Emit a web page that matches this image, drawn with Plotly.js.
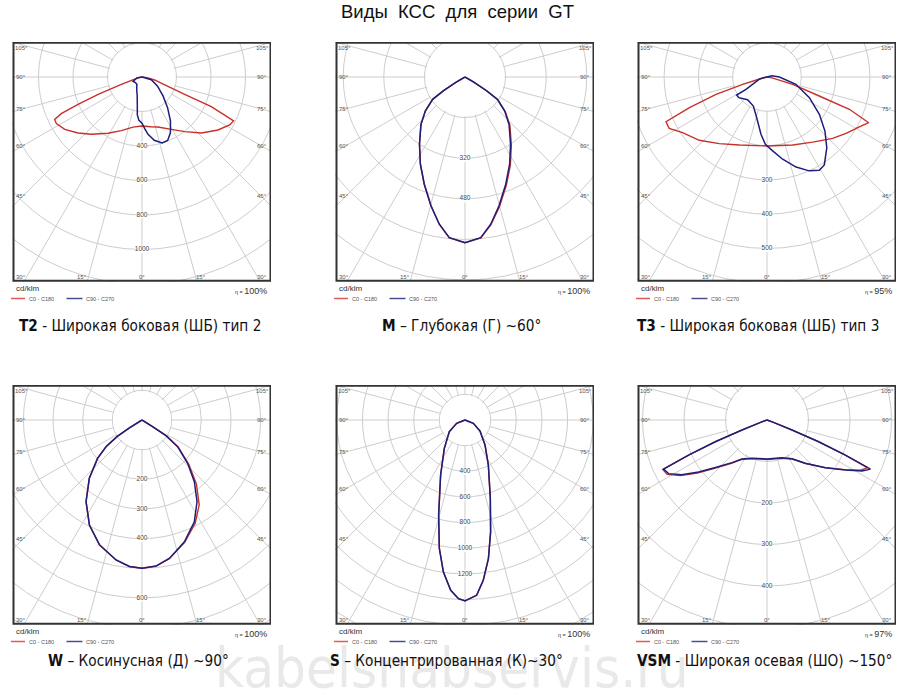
<!DOCTYPE html>
<html><head><meta charset="utf-8">
<script src="https://cdn.plot.ly/plotly-3.0.1.min.js"></script>
<style>
html,body{margin:0;padding:0;background:#fff;}
#page{position:relative;width:911px;height:695px;overflow:hidden;background:#fff;}
#bg{position:absolute;left:0;top:0;width:911px;height:695px;}
.clip{position:absolute;overflow:hidden;background:#fff;}
.pol{position:absolute;width:500px;height:500px;}
</style></head><body>
<div id="page"><div id="bg"></div></div>
<script>
// ---------------- DATA ----------------
const titleText = "Виды\u00A0 КСС\u00A0 для\u00A0 серии\u00A0 GT";
const captionCodes = ["T2", "M", "T3", "W", "S", "VSM"];
const captionTexts = [" - Широкая боковая (ШБ) тип 2", " – Глубокая (Г) ~60°", " - Широкая боковая (ШБ) тип 3",
                      " – Косинусная (Д) ~90°", " – Концентрированная (К)~30°", " - Широкая осевая (ШО) ~150°"];
const etaValues = ["100%", "100%", "95%", "100%", "100%", "97%"];
const legendNames = ["C0 - C180", "C90 - C270"];
const unitLabel = "cd/klm";
const angleLabels = ["105°", "90°", "75°", "60°", "45°", "30°", "15°", "0°"];

// T2
const t2_c0_theta = [-90,-80,-72,-70.5,-68.5,-66.9,-65.6,-64.1,-61.4,-55.9,-48.8,-41.5,-31.1,-21.1,-10.2,0,10,17.7,29.3,38,46.7,55.1,61.3,64.4,66.8,67.9,70.5,76.7,83,90];
const t2_c0_r     = [0,20,60,127,270,403,514,563,565,541,493,443,381,333,295,284,293,304,348,402,473,537,579,589,437,267,150,75,30,0];
const t2_c90_theta = [-90,-80,-64,-50,-35,-22,-15,-10,-7,-4,0,3,6,11,17,22,27,33,40,48,60,74,90];
const t2_c90_r     = [0,30,58,50,52,82,108,157,222,252,268,300,334,374,400,397,363,303,230,164,103,56,0];
const t2_rticks = [400, 600, 800, 1000];

// M
const m_theta  = [-90,-60,-57.5,-55.4,-49.4,-42.9,-34.1,-27.1,-20.8,-14.8,-9.9,-5.6,0,5.6,9.9,14.8,20.8,27.1,34.1,42.9,49.4,55.4,57.5,60,90];
const m_c0_r   = [0,40,100,155,206,255,320,386,452,525,589,636,653,637,592,530,458,392,326,260,209,157,101,40,0];
const m_c90_r  = [0,40,100,155,206,255,320,386,452,525,589,636,653,636,589,525,452,386,320,255,206,155,100,40,0];
const m_rticks = [320, 480];

// T3
const t3_c0_theta = [-90,-80,-75,-73.2,-71.2,-68.5,-66.1,-62.3,-56.6,-46.9,-35.6,-22.1,0,20.7,35,46.9,54.5,61.6,65.8,68.6,70,74,80,90];
const t3_c0_r     = [0,8,25,74,157,243,322,322,295,270,239,214,201,212,232,262,283,306,325,258,162,78,15,0];
const t3_c90_theta = [-90,-75,-59.6,-59.3,-53.9,-40.5,-25.2,-14.3,-6,-1.4,4.4,10.8,17.9,24.2,29.3,33.1,40.2,47,54.5,64,75.8,90,105,180];
const t3_c90_r     = [0,22,71,103,102,87,93.5,122,168,196,216,244,276,300,312,306,270,231,187.5,137.5,87,36,15,0];
const t3_rticks = [300, 400, 500];

// W
const w_theta  = [-90,-58,-56.5,-53.5,-49.2,-42.1,-34.4,-26.6,-18.8,-10.5,-4.9,0,5.5,11.2,19.2,27.2,34,40.3,46.5,53.2,56.9,58,90];
const w_c0_r   = [0,50,100,150,198,265,334,396,445,480,496,500,495,476,437,392,345,284,218,153,98,42,0];
const w_c90_r  = [0,50,100,150,198,265,334,396,445,480,496,500,495,476,435,386,332,273,212,150,97,42,0];
const w_rticks = [200, 300, 400, 600];

// S
const s_theta  = [-90,-68,-53.3,-36.1,-23.9,-15.5,-11.3,-8.1,-4.8,-2.1,0,3.8,6.5,9.6,12.9,17.9,27.4,38.7,53.7,68,90];
const s_c0_r   = [0,70,152,273,468,768,1020,1196,1332,1393,1410,1369,1257,1095,894,642,395,249,145,70,0];
const s_c90_r  = [0,70,153,274,470,770,1022,1197,1333,1394,1411,1370,1258,1096,895,643,396,250,145,70,0];
const s_rticks = [400, 600, 800, 1000, 1200];

// VSM
const vsm_theta  = [-90,-70,-68.2,-67.2,-65.9,-64.6,-61.4,-57.3,-52.7,-47.3,-39.4,-32.7,-21.4,0,21.5,32.9,41.5,50.7,57.4,61.8,64.6,65.9,67.2,68.2,70,90];
const vsm_c0_r   = [0,15,65,135,207,278,274,248,211,172,135,113,100,95,99,112,140,181,222,256,268,203,133,64,15,0];
const vsm_c90_r  = [0,15,65,135,207,276,270,244,207,169,133,112,99,94,98,111,139,182,224,260,276,207,135,65,15,0];
const vsm_rticks = [200, 300, 400];

// ---------------- STYLE / LAYOUT ----------------
const GRID = '#cdcdcd';
const RED = '#c8302c';
const BLUE = '#1e1e7a';
const TXT = '#444';
const SMALLFONT = 'Liberation Sans, Arial, sans-serif';
const NARROW = 'Liberation Sans Narrow, Arial Narrow, DejaVu Sans Condensed, sans-serif';
const R = 250; // half-size of each polar figure in px

const panels = [
  {box:[12,42,259,240],  cx:141.5, cy:77.3,  step:200, stepPx:34.5, c0:[t2_c0_theta,t2_c0_r], c90:[t2_c90_theta,t2_c90_r], ticks:t2_rticks, capX:18,  capY:326},
  {box:[335,42,259,240], cx:464.5, cy:77.3,  step:160, stepPx:40.6, c0:[m_theta,m_c0_r],       c90:[m_theta,m_c90_r],       ticks:m_rticks,  capX:381, capY:326},
  {box:[637,42,259,240], cx:766.5, cy:77.3,  step:100, stepPx:34.3, c0:[t3_c0_theta,t3_c0_r], c90:[t3_c90_theta,t3_c90_r], ticks:t3_rticks, capX:636, capY:326},
  {box:[12,385,259,240], cx:141.5, cy:420.3, step:100, stepPx:29.65,c0:[w_theta,w_c0_r],       c90:[w_theta,w_c90_r],       ticks:w_rticks,  capX:47,  capY:661},
  {box:[335,385,259,240],cx:464.5, cy:420.3, step:200, stepPx:25.65,c0:[s_theta,s_c0_r],       c90:[s_theta,s_c90_r],       ticks:s_rticks,  capX:329, capY:661},
  {box:[637,385,259,240],cx:766.5, cy:420.3, step:100, stepPx:41.5, c0:[vsm_theta,vsm_c0_r],   c90:[vsm_theta,vsm_c90_r],   ticks:vsm_rticks,capX:636, capY:661}
];

// angle label offsets from the polar centre (px): [label index, dx, dy]
const angleLabelPos = [
  [0,-121,-28.6],[1,-121,0],[2,-121,32],[3,-121,69],[4,-121,118.5],[5,-121,200],[6,-60,200],[7,0,200],
  [0,120,-28.6],[1,120,0],[2,120,32],[3,120,69],[4,120,118.5],[5,120,200],[6,59,200]
];

// ---------------- BACKGROUND FIGURE (texts, legends) ----------------
const bgAnn = [];
const bgShapes = [];
bgAnn.push({x:452, y:667, xref:'x', yref:'y', text:'kabelsnabservis.ru', showarrow:false,
  font:{family:NARROW, size:56, color:'#e9e9e9'}, xanchor:'center', yanchor:'middle', borderpad:0});
bgAnn.push({x:457, y:11.5, xref:'x', yref:'y', text:titleText, showarrow:false,
  font:{family:'Liberation Sans, Arial, sans-serif', size:18.5, color:'#111'}, xanchor:'center', yanchor:'middle'});

panels.forEach((p, i) => {
  const [bx, by, bw, bh] = p.box;
  bgAnn.push({x:p.capX, y:p.capY, xref:'x', yref:'y', showarrow:false, xanchor:'left', yanchor:'middle',
    text:'<b>' + captionCodes[i] + '</b>' + captionTexts[i], font:{family:NARROW, size:15.2, color:'#111'}, borderpad:0});
  bgAnn.push({x:bx+3, y:by+bh+6.5, xref:'x', yref:'y', showarrow:false, xanchor:'left', yanchor:'middle',
    text:unitLabel, font:{family:SMALLFONT, size:8, color:'#333'}, borderpad:0});
  bgAnn.push({x:bx+15.5, y:by+bh+16.5, xref:'x', yref:'y', showarrow:false, xanchor:'left', yanchor:'middle',
    text:legendNames[0], font:{family:SMALLFONT, size:5.5, color:'#555'}, borderpad:0});
  bgAnn.push({x:bx+72.5, y:by+bh+16.5, xref:'x', yref:'y', showarrow:false, xanchor:'left', yanchor:'middle',
    text:legendNames[1], font:{family:SMALLFONT, size:5.5, color:'#555'}, borderpad:0});
  bgAnn.push({x:bx+bw-3, y:by+bh+9, xref:'x', yref:'y', showarrow:false, xanchor:'right', yanchor:'middle',
    text:'<span style="font-size:5.5px">η = </span>' + etaValues[i], font:{family:SMALLFONT, size:9, color:'#333'}, borderpad:0});
  bgShapes.push({type:'line', xref:'x', yref:'y', x0:bx-1, x1:bx+13, y0:by+bh+16.5, y1:by+bh+16.5, line:{color:'#e0585a', width:1.5}});
  bgShapes.push({type:'line', xref:'x', yref:'y', x0:bx+54.5, x1:bx+70.5, y0:by+bh+16.5, y1:by+bh+16.5, line:{color:'#4a4f93', width:1.5}});
});

Plotly.newPlot('bg', [], {
  width:911, height:695, margin:{l:0,r:0,t:0,b:0},
  paper_bgcolor:'#fff', plot_bgcolor:'#fff', showlegend:false,
  xaxis:{range:[0,911], visible:false, fixedrange:true},
  yaxis:{range:[695,0], visible:false, fixedrange:true},
  annotations:bgAnn, shapes:bgShapes
}, {staticPlot:true, displayModeBar:false});

// ---------------- POLAR PANELS ----------------
const page = document.getElementById('page');
panels.forEach((p, i) => {
  const [bx, by, bw, bh] = p.box;
  const clip = document.createElement('div');
  clip.className = 'clip';
  clip.style.left = bx + 'px'; clip.style.top = by + 'px';
  clip.style.width = bw + 'px'; clip.style.height = bh + 'px';
  const gd = document.createElement('div');
  gd.className = 'pol';
  const offX = p.cx - bx - R, offY = p.cy - by - R;
  gd.style.left = offX + 'px'; gd.style.top = offY + 'px';
  clip.appendChild(gd); page.appendChild(clip);

  const rmax = R * p.step / p.stepPx;
  const traces = [
    {type:'barpolar', r:[p.step*0.96], theta:[0], width:[360], base:0,
     marker:{color:'#ffffff', line:{color:'#ffffff', width:1}}, hoverinfo:'skip'},
    {type:'scatterpolar', mode:'markers+text', r:p.ticks, theta:p.ticks.map(() => 0),
     text:p.ticks.map(String), textposition:'middle center', cliponaxis:false,
     marker:{symbol:'square', size:7, color:'#ffffff'},
     textfont:{family:SMALLFONT, size:6.5, color:TXT, shadow:'0px 0px 2px #fff, 0px 0px 2px #fff, 0px 0px 3px #fff'},
     hoverinfo:'skip'},
    {type:'scatterpolar', mode:'lines', name:legendNames[0], theta:p.c0[0], r:p.c0[1],
     line:{color:RED, width:1.4}, hoverinfo:'skip'},
    {type:'scatterpolar', mode:'lines', name:legendNames[1], theta:p.c90[0], r:p.c90[1],
     line:{color:BLUE, width:1.5}, hoverinfo:'skip'}
  ];
  const L = R - (p.cx - bx), T = R - (p.cy - by);
  const ann = angleLabelPos.map(([k, dx, dy]) => ({
    xref:'paper', yref:'paper', x:(R+dx)/(2*R), y:1-(R+dy)/(2*R), text:angleLabels[k], showarrow:false,
    xanchor:'center', yanchor:'middle', font:{family:SMALLFONT, size:6, color:'#555'}, borderpad:0
  }));
  const frame = {type:'rect', xref:'paper', yref:'paper', layer:'above',
    x0:(L+1)/(2*R), x1:(L+bw-1)/(2*R), y0:1-(T+1)/(2*R), y1:1-(T+bh-1)/(2*R),
    line:{color:'#333', width:2}, fillcolor:'rgba(0,0,0,0)'};
  Plotly.newPlot(gd, traces, {
    width:2*R, height:2*R, margin:{l:0,r:0,t:0,b:0}, showlegend:false,
    paper_bgcolor:'rgba(0,0,0,0)',
    polar:{
      domain:{x:[0,1], y:[0,1]}, bgcolor:'#fff', barmode:'overlay',
      angularaxis:{rotation:-90, direction:'counterclockwise', tickmode:'linear', tick0:0, dtick:15,
        showgrid:true, gridcolor:GRID, gridwidth:1, showticklabels:false, ticks:'', showline:false},
      radialaxis:{range:[0, rmax], tickmode:'linear', tick0:0, dtick:p.step, showgrid:true, gridcolor:GRID,
        gridwidth:1, showticklabels:false, ticks:'', showline:false}
    },
    annotations:ann, shapes:[frame]
  }, {staticPlot:true, displayModeBar:false});
});
</script>
</body></html>
